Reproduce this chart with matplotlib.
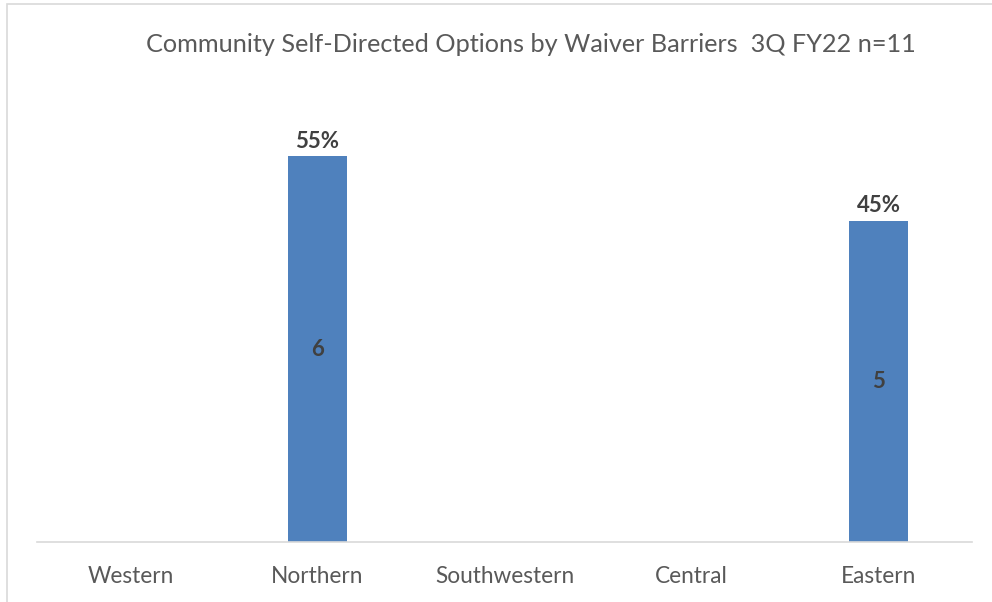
import matplotlib.pyplot as plt
from matplotlib.patches import Rectangle

regions = ['Western', 'Northern', 'Southwestern', 'Central', 'Eastern']
counts = [0, 6, 0, 0, 5]
percents = ['', '55%', '', '', '45%']

plt.rcParams['font.family'] = ['Lato', 'DejaVu Sans']

fig = plt.figure(figsize=(9.92, 6.02), dpi=100)
ax = fig.add_axes([37/992, 60/602, 935/992, 450/602])

x = list(range(len(regions)))
bars = ax.bar(x, counts, width=0.315, color='#4F81BD')

for xi, c, p in zip(x, counts, percents):
    if c == 0:
        continue
    ax.text(xi, c / 2, str(c), ha='center', va='center', fontsize=16,
            fontweight='bold', color='#404040')
    ax.text(xi, c + 0.07, p, ha='center', va='bottom', fontsize=16,
            fontweight='bold', color='#404040')

ax.set_xlim(-0.5, 4.5)
ax.set_ylim(0, 7)
ax.set_xticks(x)
ax.set_xticklabels(regions, fontsize=16.3, color='#595959')
ax.tick_params(axis='x', length=0, pad=17)
ax.set_yticks([])
for s in ['top', 'right', 'left']:
    ax.spines[s].set_visible(False)
ax.spines['bottom'].set_color('#D9D9D9')
ax.spines['bottom'].set_linewidth(1.2)

fig.text(531/992, 1 - 45/602, 'Community Self-Directed Options by Waiver Barriers  3Q FY22 n=11',
         ha='center', va='center', fontsize=18.2, color='#595959')

fig.patches.append(Rectangle((7/992, -0.1), 1.2, 1.1 - 4/602, transform=fig.transFigure,
                             fill=False, edgecolor='#D9D9D9', linewidth=1.2))

fig.savefig('out.png', dpi=100)
